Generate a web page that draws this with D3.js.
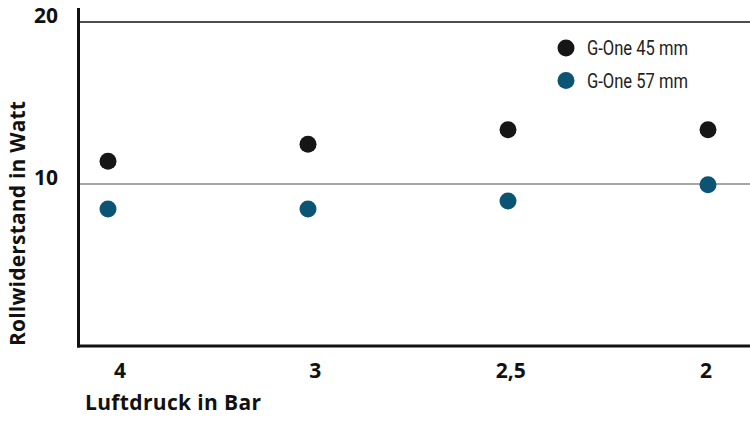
<!DOCTYPE html>
<html>
<head>
<meta charset="utf-8">
<script src="https://cdn.jsdelivr.net/npm/d3@7"></script>
<style>
  body { margin: 0; background: #fff; }
  svg { display: block; }
</style>
</head>
<body>
<div id="chart"></div>
<script>
// data
var categories = ["4", "3", "2,5", "2"];
var seriesNames = ["G-One 45 mm", "G-One 57 mm"];
var seriesColors = ["#161616", "#0b5474"];
var g45 = [11.4, 12.45, 13.35, 13.35];
var g57 = [8.45, 8.45, 8.95, 9.95];
var yTicks = [10, 20];

var width = 750, height = 421;

var svg = d3.select("#chart").append("svg")
    .attr("width", width)
    .attr("height", height);

var y = d3.scaleLinear().domain([0, 20]).range([346, 22]);
var x = d3.scalePoint().domain(categories).range([108, 708]);
var xLabel = d3.scalePoint().domain(categories).range([120, 706]);

// gridlines
svg.selectAll("line.grid")
    .data(yTicks)
    .enter().append("line")
    .attr("class", "grid")
    .attr("x1", 78)
    .attr("x2", width)
    .attr("y1", function(d){ return y(d); })
    .attr("y2", function(d){ return y(d); })
    .attr("stroke", function(d){ return d == 20 ? "#111" : "#8a8a8a"; })
    .attr("stroke-width", 1.5);

// y tick labels
svg.selectAll("text.ytick")
    .data(yTicks)
    .enter().append("text")
    .attr("class", "ytick")
    .attr("x", 58)
    .attr("y", function(d){ return y(d) + 1; })
    .attr("text-anchor", "end")
    .attr("font-family", "Open Sans")
    .attr("font-weight", "bold")
    .attr("font-size", 21)
    .attr("fill", "#111")
    .text(function(d){ return d; });

// axes lines
svg.append("line")
    .attr("x1", 78.5).attr("x2", 78.5)
    .attr("y1", 8).attr("y2", y(0) + 1.5)
    .attr("stroke", "#111").attr("stroke-width", 3);

svg.append("line")
    .attr("x1", 77).attr("x2", width)
    .attr("y1", y(0)).attr("y2", y(0))
    .attr("stroke", "#111").attr("stroke-width", 3);

// x tick labels
svg.selectAll("text.xtick")
    .data(categories)
    .enter().append("text")
    .attr("class", "xtick")
    .attr("x", function(d){ return xLabel(d); })
    .attr("y", 378)
    .attr("text-anchor", "middle")
    .attr("font-family", "Open Sans")
    .attr("font-weight", "bold")
    .attr("font-size", 21)
    .attr("fill", "#111")
    .text(function(d){ return d; });

// axis titles
svg.append("text")
    .attr("x", 85)
    .attr("y", 410)
    .attr("font-family", "Open Sans")
    .attr("font-weight", "bold")
    .attr("font-size", 21)
    .attr("textLength", 176)
    .attr("fill", "#111")
    .text("Luftdruck in Bar");

svg.append("text")
    .attr("transform", "translate(25,346) rotate(-90)")
    .attr("font-family", "Open Sans")
    .attr("font-weight", "bold")
    .attr("font-size", 21)
    .attr("textLength", 245)
    .attr("fill", "#111")
    .text("Rollwiderstand in Watt");

// points
var series = [g45, g57];
series.forEach(function(vals, s){
    svg.selectAll("circle.s" + s)
        .data(vals)
        .enter().append("circle")
        .attr("class", "s" + s)
        .attr("cx", function(d, i){ return x(categories[i]); })
        .attr("cy", function(d){ return y(d); })
        .attr("r", 8.5)
        .attr("fill", seriesColors[s]);
});

// legend
var legend = svg.selectAll("g.legend")
    .data(seriesNames)
    .enter().append("g")
    .attr("class", "legend")
    .attr("transform", function(d, i){ return "translate(566," + (48 + i * 32.5) + ")"; });

legend.append("circle")
    .attr("r", 8.5)
    .attr("fill", function(d, i){ return seriesColors[i]; });

legend.append("text")
    .attr("x", 21)
    .attr("y", 7)
    .attr("font-family", "Roboto")
    .attr("font-size", 21)
    .attr("textLength", 101)
    .attr("lengthAdjust", "spacingAndGlyphs")
    .attr("fill", "#222")
    .text(function(d){ return d; });
</script>
</body>
</html>
